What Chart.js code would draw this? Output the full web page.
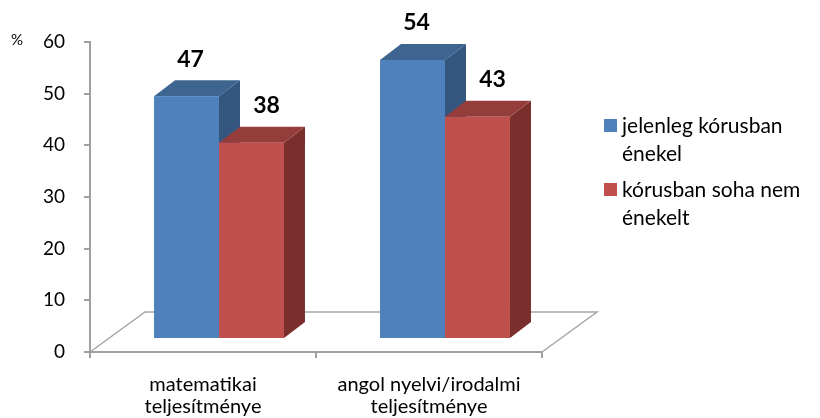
<!DOCTYPE html>
<html>
<head>
<meta charset="utf-8">
<script src="https://cdn.jsdelivr.net/npm/chart.js@4.4.1/dist/chart.umd.min.js"></script>
<style>
  html, body { margin: 0; padding: 0; background: #fff; }
  #chart { display: block; }
</style>
</head>
<body>
<canvas id="chart" width="820" height="418"></canvas>
<script>
// chart data
const categories = [['matematikai', 'teljesítménye'], ['angol nyelvi/irodalmi', 'teljesítménye']];
const seriesNames = [['jelenleg kórusban', 'énekel'], ['kórusban soha nem', 'énekelt']];
const currentChoir = [47, 54];
const neverChoir = [38, 43];
const yTicks = [0, 10, 20, 30, 40, 50, 60];
const unitLabel = '%';

const FONT = 'Lato, "Open Sans", sans-serif';
const faceColors = [
    { front: '#4F81BD', top: '#3E6490', side: '#34567F' },
    { front: '#C0504D', top: '#943D3B', side: '#7A2F2D' }
];
// 3D offsets: where the bar front sits on the floor, and the bar depth
const FRONT_DX = 16, FRONT_DY = -13;
const DEPTH_DX = 21, DEPTH_DY = -16;
const FLOOR_DX = 55, FLOOR_DY = -40;
const labelDx = [4, 15];

const threeDBars = {
    id: 'threeDBars',
    beforeDatasetsDraw(chart) {
        const ctx = chart.ctx;
        const area = chart.chartArea;
        // floor
        ctx.save();
        ctx.strokeStyle = '#A6A6A6';
        ctx.lineWidth = 1.5;
        ctx.beginPath();
        ctx.moveTo(area.left, area.bottom);
        ctx.lineTo(area.left + FLOOR_DX, area.bottom + FLOOR_DY);
        ctx.lineTo(area.right + FLOOR_DX, area.bottom + FLOOR_DY);
        ctx.lineTo(area.right, area.bottom);
        ctx.stroke();
        ctx.restore();

        const metas = chart.data.datasets.map((d, i) => chart.getDatasetMeta(i));
        const n = chart.data.labels.length;
        for (let j = 0; j < n; j++) {
            metas.forEach((meta, i) => {
                const bar = meta.data[j];
                const c = faceColors[i];
                const left = bar.x - bar.width / 2 + FRONT_DX;
                const right = left + bar.width;
                const top = bar.y + FRONT_DY;
                const bottom = bar.base + FRONT_DY;
                // side
                ctx.fillStyle = c.side;
                ctx.beginPath();
                ctx.moveTo(right, top);
                ctx.lineTo(right + DEPTH_DX, top + DEPTH_DY);
                ctx.lineTo(right + DEPTH_DX, bottom + DEPTH_DY);
                ctx.lineTo(right, bottom);
                ctx.closePath();
                ctx.fill();
                // top
                ctx.fillStyle = c.top;
                ctx.beginPath();
                ctx.moveTo(left, top);
                ctx.lineTo(left + DEPTH_DX, top + DEPTH_DY);
                ctx.lineTo(right + DEPTH_DX, top + DEPTH_DY);
                ctx.lineTo(right, top);
                ctx.closePath();
                ctx.fill();
                // front
                ctx.fillStyle = c.front;
                ctx.fillRect(left, top, bar.width, bottom - top);
            });
        }

        // value labels
        ctx.save();
        ctx.fillStyle = '#000';
        ctx.font = 'bold 23px ' + FONT;
        ctx.textAlign = 'center';
        ctx.textBaseline = 'middle';
        metas.forEach((meta, i) => {
            meta.data.forEach((bar, j) => {
                const v = chart.data.datasets[i].data[j];
                ctx.fillText(String(v), bar.x + FRONT_DX + labelDx[i], bar.y + FRONT_DY - 37);
            });
        });
        ctx.restore();
        return false;
    },
    afterDraw(chart) {
        const ctx = chart.ctx;
        ctx.save();
        // unit label
        ctx.fillStyle = '#000';
        ctx.font = '15px ' + FONT;
        ctx.textAlign = 'center';
        ctx.textBaseline = 'middle';
        ctx.fillText(unitLabel, 17, 40);

        // legend
        ctx.font = '21px ' + FONT;
        ctx.textAlign = 'left';
        const entryY = [126, 190];
        seriesNames.forEach((lines, i) => {
            ctx.fillStyle = faceColors[i].front;
            ctx.fillRect(604, entryY[i] - 7, 13, 13);
            ctx.fillStyle = '#000';
            lines.forEach((t, k) => ctx.fillText(t, 622, entryY[i] + k * 28));
        });
        ctx.restore();
    }
};

new Chart(document.getElementById('chart'), {
    type: 'bar',
    data: {
        labels: categories,
        datasets: [
            { label: seriesNames[0].join(' '), data: currentChoir, backgroundColor: faceColors[0].front },
            { label: seriesNames[1].join(' '), data: neverChoir, backgroundColor: faceColors[1].front }
        ]
    },
    options: {
        responsive: false,
        animation: false,
        categoryPercentage: 0.575,
        barPercentage: 1.0,
        layout: { padding: { top: 42, right: 278, left: 0, bottom: 0 } },
        plugins: {
            legend: { display: false },
            tooltip: { enabled: false }
        },
        scales: {
            x: {
                afterFit: (s) => { s.height = 66; },
                grid: { drawOnChartArea: false, tickLength: 6, color: '#A0A0A0', lineWidth: 2, offset: true },
                border: { color: '#A0A0A0', width: 2 },
                ticks: { color: '#000', font: { family: FONT, size: 20, lineHeight: 1.1 }, padding: 16, maxRotation: 0 }
            },
            y: {
                min: 0,
                max: 60,
                afterFit: (s) => { s.width = 90; },
                afterBuildTicks: (s) => { s.ticks = yTicks.map(v => ({ value: v })); },
                grid: { drawOnChartArea: false, tickLength: 6, color: '#A0A0A0', lineWidth: 2 },
                border: { color: '#A0A0A0', width: 2 },
                ticks: { color: '#000', font: { family: FONT, size: 19 }, padding: 19 }
            }
        }
    },
    plugins: [threeDBars]
});
</script>
</body>
</html>
